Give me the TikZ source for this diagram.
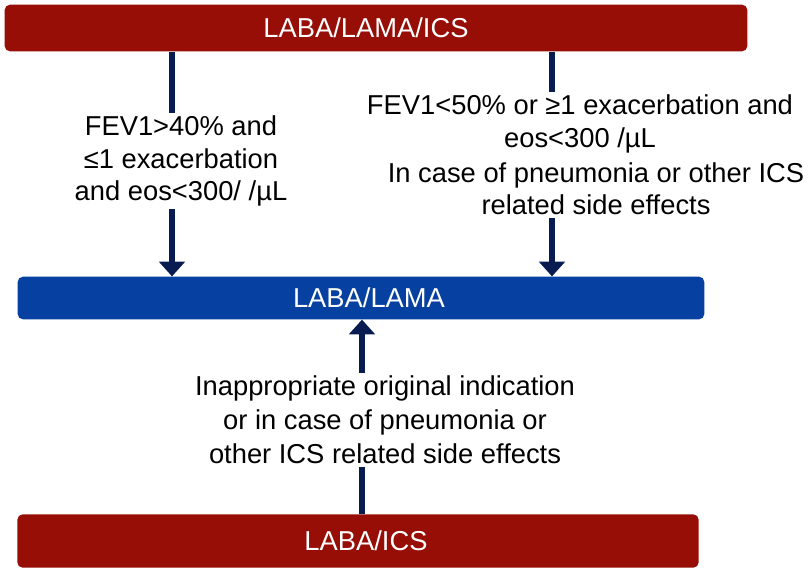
\documentclass[tikz,border=0pt]{standalone}
\usepackage{fontspec}
\setmainfont{Liberation Sans}
\usetikzlibrary{arrows.meta}
\definecolor{barred}{RGB}{150,14,6}
\definecolor{barblue}{RGB}{6,64,160}
\definecolor{linknavy}{RGB}{8,28,82}
\tikzset{
  bar/.style={rounded corners=4pt,inner sep=0pt},
  bartext/.style={text=white,inner sep=0pt},
  cond/.style={align=center,inner sep=2pt},
  link/.style={draw=linknavy,line width=4.2pt},
  arr/.style={link,-{Triangle[width=19pt,length=11pt]}}
}
\begin{document}
\begin{tikzpicture}[x=0.75pt,y=-0.75pt,font=\fontsize{20.5}{24.3}\selectfont]
\useasboundingbox (0,0) rectangle (808,576);
\node[bar,fill=barred,minimum width=557pt,minimum height=35pt] (tri) at (376,28) {};
\node[bar,fill=barblue,minimum width=515pt,minimum height=32pt] (dual) at (361,298) {};
\node[bar,fill=barred,minimum width=511pt,minimum height=40pt] (laics) at (358,541) {};
\node[bartext] (triT) at (366,28) {LABA/LAMA/ICS};
\node[bartext] (dualT) at (369,298) {LABA/LAMA};
\node[bartext] (laicsT) at (366,541) {LABA/ICS};
\node[cond] (condL) at (181,161) {FEV1>40\% and\\≤1 exacerbation\\and eos<300/ /µL};
\node[cond] (condRa) at (580,124) {FEV1<50\% or ≥1 exacerbation and\\eos<300 /µL};
\node[cond] (condRb) at (596,189) {In case of pneumonia or other ICS\\related side effects};
\node[cond,font=\fontsize{20.5}{25.5}\selectfont] (condB) at (385,420) {Inappropriate original indication\\or in case of pneumonia or\\other ICS related side effects};
\coordinate (xl) at (172,0);
\coordinate (xr) at (552,0);
\coordinate (xb) at (362,0);
\draw[link] (tri.south -| xl) -- (condL.north -| xl);
\draw[arr] (condL.south -| xl) -- (dual.north -| xl);
\draw[link] (tri.south -| xr) -- (condRa.north -| xr);
\draw[arr] (condRb.south -| xr) -- (dual.north -| xr);
\draw[link] (laics.north -| xb) -- (condB.south -| xb);
\draw[arr] (condB.north -| xb) -- (dual.south -| xb);
\end{tikzpicture}
\end{document}
